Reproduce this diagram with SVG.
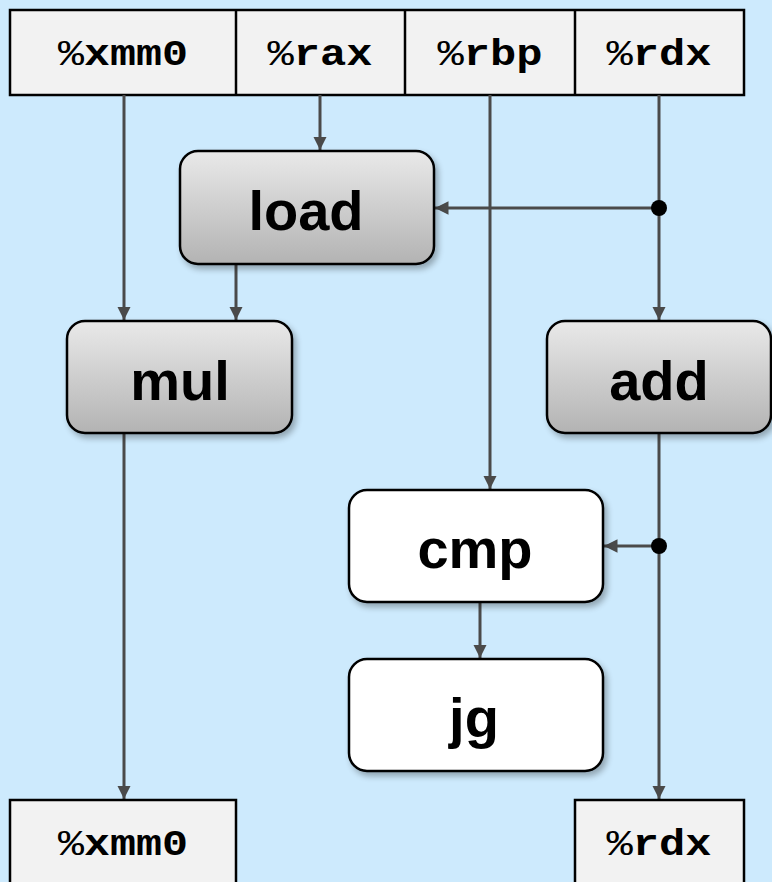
<svg xmlns="http://www.w3.org/2000/svg" width="772" height="882" viewBox="0 0 772 882">
  <defs>
    <linearGradient id="opGrad" x1="0" y1="0" x2="0" y2="1">
      <stop offset="0" stop-color="#e9e9e9"/>
      <stop offset="1" stop-color="#b3b3b3"/>
    </linearGradient>
    <filter id="shadow" x="-10%" y="-10%" width="125%" height="130%">
      <feGaussianBlur in="SourceAlpha" stdDeviation="3"/>
      <feOffset dx="3" dy="4" result="b"/>
      <feComponentTransfer><feFuncA type="linear" slope="0.3"/></feComponentTransfer>
      <feMerge><feMergeNode/><feMergeNode in="SourceGraphic"/></feMerge>
    </filter>
    <marker id="arrow" viewBox="0 0 10 10" refX="10" refY="5" markerWidth="4.5" markerHeight="4.5" orient="auto" markerUnits="strokeWidth">
      <path d="M0,0 L10,5 L0,10 z" fill="#4a4a4a"/>
    </marker>
  </defs>
  <style>
    .reg { fill: #f2f2f2; stroke: #000; stroke-width: 2.5; }
    .regtxt { font-family: "Liberation Mono", "Courier New", monospace; font-weight: bold; font-size: 36px; fill: #000; text-anchor: middle; }
    .pct { font-weight: normal; }
    .op { stroke: #000; stroke-width: 2.5; filter: url(#shadow); }
    .grey { fill: url(#opGrad); }
    .white { fill: #ffffff; }
    .optxt { font-family: "Liberation Sans", Arial, sans-serif; font-weight: bold; font-size: 56px; fill: #000; text-anchor: middle; }
    .wire { stroke: #4a4a4a; stroke-width: 3; fill: none; }
    .dot { fill: #000; }
  </style>

  <rect x="0" y="0" width="772" height="882" fill="#cdeafd"/>

  <!-- input registers -->
  <g id="regs-in">
    <rect class="reg" x="10" y="10" width="734" height="85"/>
    <line x1="236" y1="10" x2="236" y2="95" stroke="#000" stroke-width="2.5"/>
    <line x1="405" y1="10" x2="405" y2="95" stroke="#000" stroke-width="2.5"/>
    <line x1="575" y1="10" x2="575" y2="95" stroke="#000" stroke-width="2.5"/>
    <text class="regtxt" x="123" y="65" textLength="130" lengthAdjust="spacingAndGlyphs"><tspan class="pct">%</tspan>xmm0</text>
    <text class="regtxt" x="320" y="65" textLength="105" lengthAdjust="spacingAndGlyphs"><tspan class="pct">%</tspan>rax</text>
    <text class="regtxt" x="490" y="65" textLength="105" lengthAdjust="spacingAndGlyphs"><tspan class="pct">%</tspan>rbp</text>
    <text class="regtxt" x="659" y="65" textLength="105" lengthAdjust="spacingAndGlyphs"><tspan class="pct">%</tspan>rdx</text>
  </g>

  <!-- connectors -->
  <g id="connectors">
    <line class="wire" x1="124" y1="95" x2="124" y2="320" marker-end="url(#arrow)"/>
    <line class="wire" x1="320" y1="95" x2="320" y2="150" marker-end="url(#arrow)"/>
    <line class="wire" x1="490" y1="95" x2="490" y2="489" marker-end="url(#arrow)"/>
    <line class="wire" x1="659" y1="95" x2="659" y2="320" marker-end="url(#arrow)"/>
    <line class="wire" x1="659" y1="208" x2="435" y2="208" marker-end="url(#arrow)"/>
    <line class="wire" x1="236" y1="264" x2="236" y2="320" marker-end="url(#arrow)"/>
    <line class="wire" x1="124" y1="433" x2="124" y2="799" marker-end="url(#arrow)"/>
    <line class="wire" x1="659" y1="433" x2="659" y2="799" marker-end="url(#arrow)"/>
    <line class="wire" x1="659" y1="546" x2="604" y2="546" marker-end="url(#arrow)"/>
    <line class="wire" x1="480" y1="602" x2="480" y2="658" marker-end="url(#arrow)"/>
    <circle class="dot" cx="659" cy="208" r="8"/>
    <circle class="dot" cx="659" cy="546" r="8"/>
  </g>

  <!-- operations -->
  <g id="load">
    <rect class="op grey" x="180" y="151" width="254" height="113" rx="18"/>
    <text class="optxt" x="306" y="230">load</text>
  </g>
  <g id="mul">
    <rect class="op grey" x="67" y="321" width="225" height="112" rx="18"/>
    <text class="optxt" x="180" y="400">mul</text>
  </g>
  <g id="add">
    <rect class="op grey" x="547" y="321" width="224" height="112" rx="18"/>
    <text class="optxt" x="659" y="400">add</text>
  </g>
  <g id="cmp">
    <rect class="op white" x="349" y="490" width="254" height="112" rx="18"/>
    <text class="optxt" x="475" y="568">cmp</text>
  </g>
  <g id="jg">
    <rect class="op white" x="349" y="659" width="254" height="112" rx="18"/>
    <text class="optxt" x="474" y="737">jg</text>
  </g>

  <!-- output registers -->
  <g id="reg-out-xmm0">
    <rect class="reg" x="10" y="800" width="226" height="95"/>
    <text class="regtxt" x="123" y="855" textLength="130" lengthAdjust="spacingAndGlyphs"><tspan class="pct">%</tspan>xmm0</text>
  </g>
  <g id="reg-out-rdx">
    <rect class="reg" x="575" y="800" width="169" height="95"/>
    <text class="regtxt" x="659" y="855" textLength="105" lengthAdjust="spacingAndGlyphs"><tspan class="pct">%</tspan>rdx</text>
  </g>
</svg>
